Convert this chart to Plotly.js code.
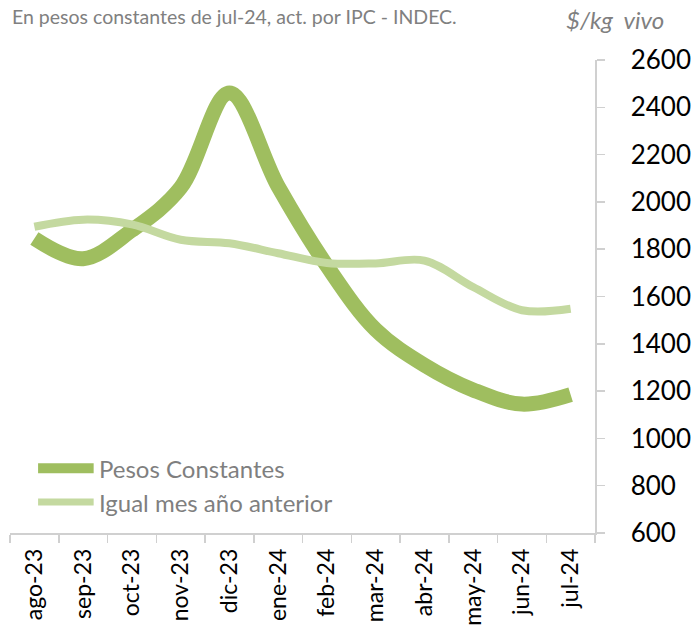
<!DOCTYPE html>
<html>
<head>
<meta charset="utf-8">
<script src="https://cdn.plot.ly/plotly-3.0.1.min.js"></script>
<style>html,body{margin:0;padding:0;background:#fff;}#chart{width:693px;height:638px;}</style>
</head>
<body>
<div id="chart"></div>
<script>
const categories = ["ago-23","sep-23","oct-23","nov-23","dic-23","ene-24","feb-24","mar-24","abr-24","may-24","jun-24","jul-24"];
const pesosConstantes = [1845, 1760, 1880, 2060, 2460, 2065, 1730, 1460, 1310, 1205, 1145, 1185];
const igualMesAnterior = [1895, 1925, 1905, 1840, 1825, 1783, 1742, 1740, 1752, 1640, 1542, 1548];
const yTicks = [600, 800, 1000, 1200, 1400, 1600, 1800, 2000, 2200, 2400, 2600];
const seriesNames = ["Pesos Constantes", "Igual mes año anterior"];
const seriesColors = ["#9fbe5f", "#c4d9a0"];

const font = "Lato, 'Open Sans', sans-serif";

const traces = [
  {
    x: categories, y: pesosConstantes, name: seriesNames[0], type: "scatter", mode: "lines",
    line: {color: seriesColors[0], width: 15, shape: "spline", smoothing: 1},
    hoverinfo: "skip"
  },
  {
    x: categories, y: igualMesAnterior, name: seriesNames[1], type: "scatter", mode: "lines",
    line: {color: seriesColors[1], width: 8, shape: "spline", smoothing: 1},
    hoverinfo: "skip"
  }
];

// custom legend (long line samples like the original)
const legendY = [0.137, 0.0655];
const legendWidths = [10, 7];
const shapes = seriesNames.map((n, i) => ({
  type: "line", xref: "paper", yref: "paper",
  x0: 0.048, x1: 0.143, y0: legendY[i], y1: legendY[i],
  line: {color: seriesColors[i], width: legendWidths[i]}
}));
const legendAnn = seriesNames.map((n, i) => ({
  text: n, xref: "paper", yref: "paper", x: 0.1487, y: legendY[i],
  xanchor: "left", yanchor: "middle", showarrow: false,
  font: {family: font, size: 24, color: "#7f7f7f"}
}));

const layout = {
  width: 693, height: 638,
  margin: {l: 10, r: 98, t: 60, b: 105},
  paper_bgcolor: "#fff", plot_bgcolor: "#fff",
  font: {family: font, color: "#000"},
  showlegend: false,
  xaxis: {
    type: "category", range: [-0.5, 11.5],
    showgrid: false, zeroline: false,
    showline: true, linecolor: "#d0d0d0", linewidth: 1.5,
    ticks: "outside", tickson: "boundaries", ticklen: 8, tickcolor: "#d0d0d0", tickwidth: 1.5,
    tickangle: -90, tickfont: {family: font, size: 23, color: "#000"},
    ticklabelstandoff: 5
  },
  yaxis: {
    side: "right", range: [600, 2600],
    tickvals: yTicks, ticktext: yTicks.map(String),
    showgrid: false, zeroline: false,
    showline: true, linecolor: "#d0d0d0", linewidth: 1.5,
    ticks: "outside", ticklen: 8, tickcolor: "#d0d0d0", tickwidth: 1.5,
    tickfont: {family: font, size: 26, color: "#000"},
    ticklabelstandoff: 21
  },
  shapes: shapes,
  annotations: [
    {text: "En pesos constantes de jul-24, act. por IPC - INDEC.", xref: "paper", yref: "paper",
     x: 0.0, y: 1.093, xanchor: "left", yanchor: "middle", showarrow: false,
     font: {family: font, size: 19.5, color: "#808080"}},
    {text: "<i>$/kg  vivo</i>", xref: "paper", yref: "paper",
     x: 0.947, y: 1.085, xanchor: "left", yanchor: "middle", showarrow: false,
     font: {family: font, size: 24, color: "#808080"}}
  ].concat(legendAnn)
};

Plotly.newPlot("chart", traces, layout, {displayModeBar: false, staticPlot: true});
</script>
</body>
</html>
